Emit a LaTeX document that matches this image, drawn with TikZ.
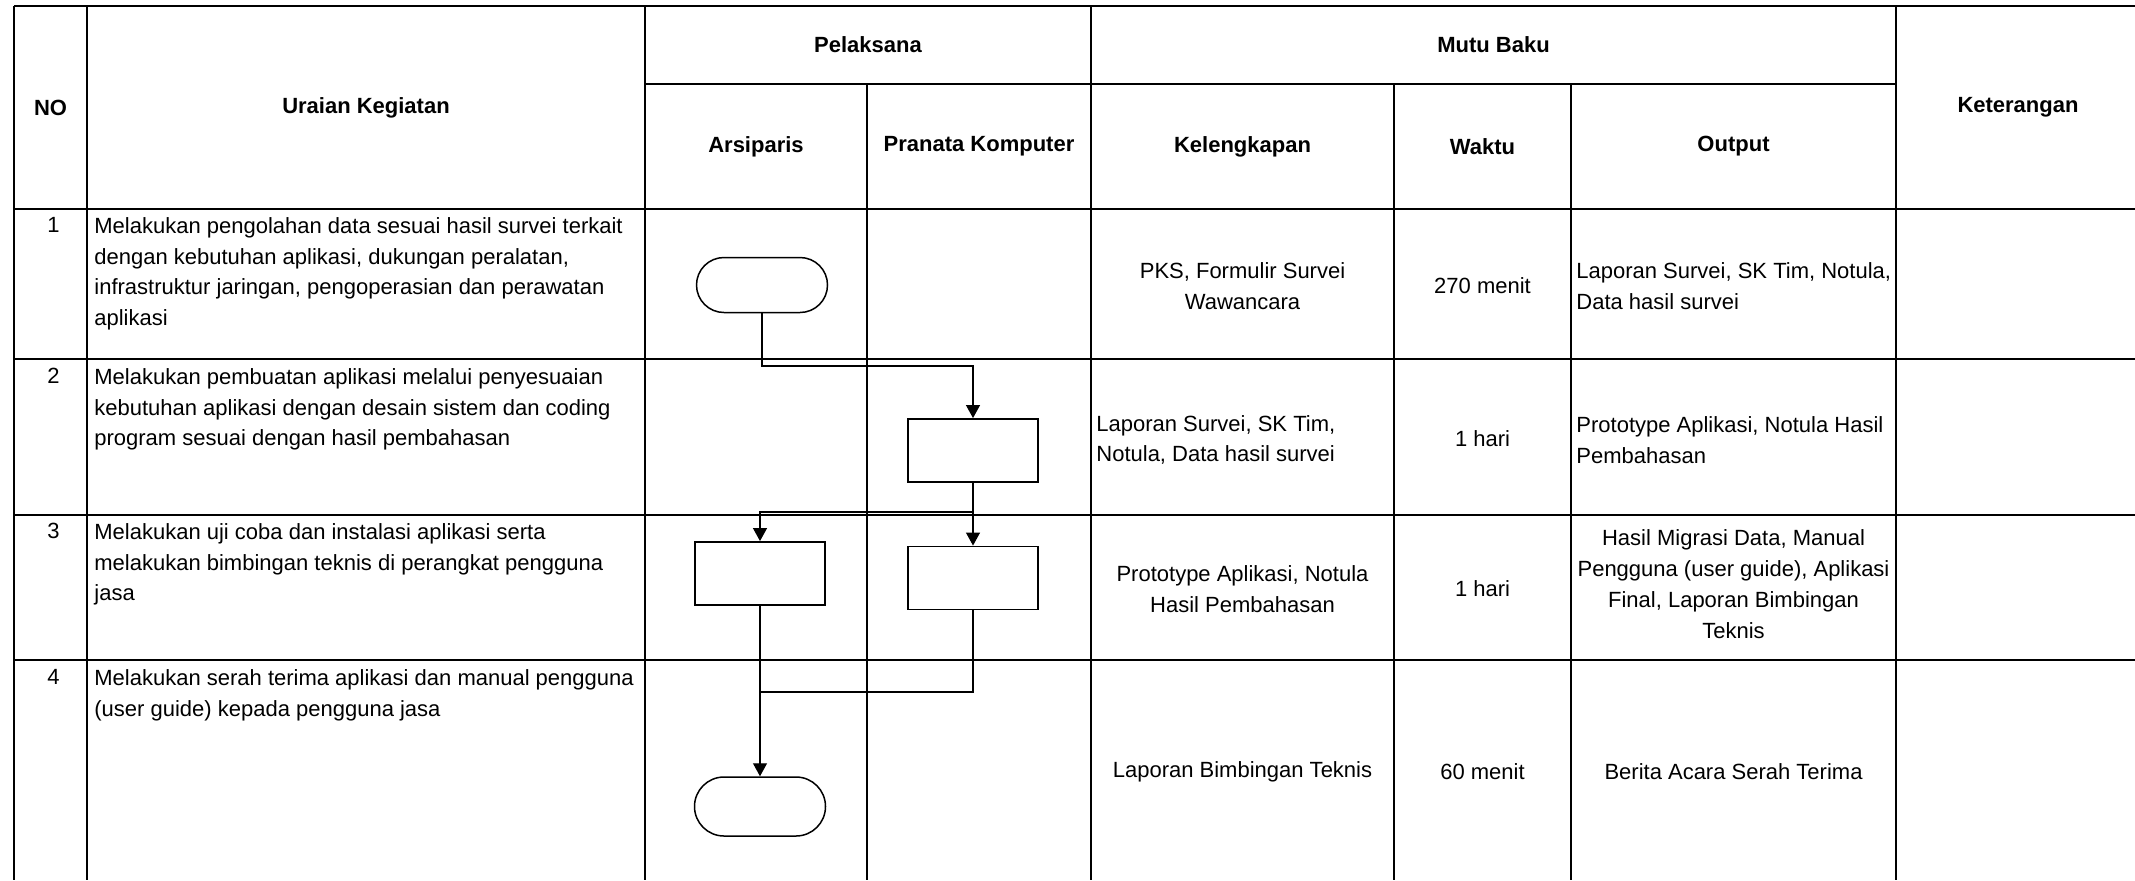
\documentclass[tikz,border=0pt]{standalone}
\usepackage{fontspec}
\setmainfont{Liberation Sans}
\usetikzlibrary{arrows.meta,shapes.misc}
\newcommand{\cellfont}{\fontsize{11}{15.4}\selectfont}
\begin{document}
\begin{tikzpicture}[x=0.5pt,y=-0.5pt,
  tbl/.style={line width=1.35pt},
  hdr/.style={font=\cellfont\bfseries, inner sep=0pt, align=center},
  ltxt/.style={font=\cellfont, inner sep=0pt, align=left},
  ctxt/.style={font=\cellfont, inner sep=0pt, align=center},
  term/.style={draw, rounded rectangle, line width=0.75pt, minimum width=65.5pt, minimum height=27.5pt, inner sep=0pt},
  proc/.style={draw, rectangle, line width=0.95pt, minimum width=65pt, minimum height=31.5pt, inner sep=0pt},
  conn/.style={line width=0.6pt},
  arr/.style={conn, -{Triangle[length=6.5pt,width=7pt]}}
]
\useasboundingbox (0,0) rectangle (2135,880);
\fill[white] (0,0) rectangle (2135,880);

% ---- table grid ----
\draw[tbl] (14,6) -- (2135,6);
\draw[tbl] (645,84) -- (1896,84);
\foreach \yy in {209,359,515,660} \draw[tbl] (14,\yy) -- (2135,\yy);
\foreach \xx in {14,87,645,1091,1896} \draw[tbl] (\xx,6) -- (\xx,880);
\foreach \xx in {867,1394,1571} \draw[tbl] (\xx,84) -- (\xx,880);

% ---- header ----
\node[hdr] (hno) at (50.5,107.5) {NO};
\node[hdr] (hur) at (366,107.5) {Uraian Kegiatan};
\node[hdr] (hpel) at (868,45) {Pelaksana};
\node[hdr] (hmutu) at (1493.5,45) {Mutu Baku};
\node[hdr] (hars) at (756,146.5) {Arsiparis};
\node[hdr] (hpra) at (979,146.5) {Pranata Komputer};
\node[hdr] (hkel) at (1242.5,146.5) {Kelengkapan};
\node[hdr] (hwak) at (1482.5,146.5) {Waktu};
\node[hdr] (hout) at (1733.5,146.5) {Output};
\node[hdr] (hket) at (2018,107.5) {Keterangan};

% ---- numbers ----
\node[ctxt, anchor=north] (n1) at (53.5,217) {1};
\node[ctxt, anchor=north] (n2) at (53.5,368) {2};
\node[ctxt, anchor=north] (n3) at (53.5,523) {3};
\node[ctxt, anchor=north] (n4) at (53.5,669) {4};

% ---- activities ----
\node[ltxt, anchor=north west] (u1) at (94,217) {Melakukan pengolahan data sesuai hasil survei terkait\\dengan kebutuhan aplikasi, dukungan peralatan,\\infrastruktur jaringan, pengoperasian dan perawatan\\aplikasi};
\node[ltxt, anchor=north west] (u2) at (94,368) {Melakukan pembuatan aplikasi melalui penyesuaian\\kebutuhan aplikasi dengan desain sistem dan coding\\program sesuai dengan hasil pembahasan};
\node[ltxt, anchor=north west] (u3) at (94,523) {Melakukan uji coba dan instalasi aplikasi serta\\melakukan bimbingan teknis di perangkat pengguna\\jasa};
\node[ltxt, anchor=north west] (u4) at (94,669) {Melakukan serah terima aplikasi dan manual pengguna\\(user guide) kepada pengguna jasa};

% ---- kelengkapan ----
\node[ctxt] (k1) at (1242.5,286) {PKS, Formulir Survei\\Wawancara};
\node[ltxt, anchor=west] (k2) at (1096,440) {Laporan Survei, SK Tim,\\Notula, Data hasil survei};
\node[ctxt] (k3) at (1242.5,589) {Prototype Aplikasi, Notula\\Hasil Pembahasan};
\node[ctxt] (k4) at (1242.5,772) {Laporan Bimbingan Teknis};

% ---- waktu ----
\node[ctxt] (w1) at (1482.5,286) {270 menit};
\node[ctxt] (w2) at (1482.5,439) {1 hari};
\node[ctxt] (w3) at (1482.5,589) {1 hari};
\node[ctxt] (w4) at (1482.5,772) {60 menit};

% ---- output ----
\node[ltxt, anchor=west] (o1) at (1576,286) {Laporan Survei, SK Tim, Notula,\\Data hasil survei};
\node[ltxt, anchor=west] (o2) at (1576,440) {Prototype Aplikasi, Notula Hasil\\Pembahasan};
\node[ctxt] (o3) at (1733.5,584) {Hasil Migrasi Data, Manual\\Pengguna (user guide), Aplikasi\\Final, Laporan Bimbingan\\Teknis};
\node[ctxt] (o4) at (1733.5,772) {Berita Acara Serah Terima};

% ---- flow shapes ----
\node[term] (t1) at (762,285) {};
\node[proc] (b2) at (973,450.5) {};
\node[proc] (b3a) at (760,573.5) {};
\node[proc] (b3b) at (973,578) {};
\node[term, minimum height=29.5pt] (t4) at (760,806.5) {};

\coordinate (j1) at (870,366);
\coordinate (j2) at (870,512);
\coordinate (j3) at (760,692);

% ---- connectors ----
\draw[arr] (t1.south) |- (j1) -| (b2.north);
\draw[arr] (b2.south) -- (b3b.north);
\draw[arr] (b2.south) |- (j2) -| (b3a.north);
\draw[arr] (b3a.south) -- (t4.north);
\draw[conn] (b3b.south) |- (j3);
\end{tikzpicture}
\end{document}
